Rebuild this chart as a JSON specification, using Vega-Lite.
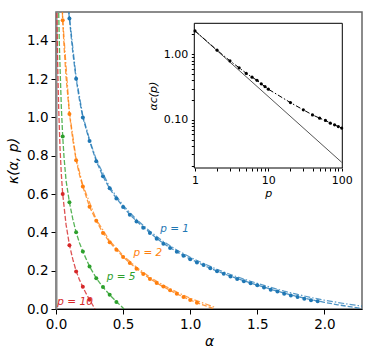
{
  "$schema": "https://vega.github.io/schema/vega-lite/v6.json",
  "width": 306,
  "height": 297,
  "autosize": {"type": "none"},
  "padding": {"left": 56, "top": 12, "right": 12, "bottom": 48},
  "config": {
    "font": "DejaVu Sans",
    "view": {"stroke": "#666", "strokeWidth": 1.5},
    "axis": {"grid": false, "labelColor": "#000", "titleColor": "#000", "tickColor": "#000", "domainColor": "#000", "titleFontWeight": "normal"}
  },
  "datasets": {
    "theory": [
      {"series": "1", "kind": "A", "alpha": 0.07, "kappa": 1.8}, {"series": "1", "kind": "A", "alpha": 0.08, "kappa": 1.67}, {"series": "1", "kind": "A", "alpha": 0.09, "kappa": 1.58}, {"series": "1", "kind": "A", "alpha": 0.1, "kappa": 1.515}, {"series": "1", "kind": "A", "alpha": 0.125, "kappa": 1.34}, {"series": "1", "kind": "A", "alpha": 0.15, "kappa": 1.2}, {"series": "1", "kind": "A", "alpha": 0.175, "kappa": 1.09}, {"series": "1", "kind": "A", "alpha": 0.2, "kappa": 1.0}, {"series": "1", "kind": "A", "alpha": 0.25, "kappa": 0.876}, {"series": "1", "kind": "A", "alpha": 0.3, "kappa": 0.772}, {"series": "1", "kind": "A", "alpha": 0.35, "kappa": 0.692}, {"series": "1", "kind": "A", "alpha": 0.4, "kappa": 0.628}, {"series": "1", "kind": "A", "alpha": 0.45, "kappa": 0.578}, {"series": "1", "kind": "A", "alpha": 0.5, "kappa": 0.533}, {"series": "1", "kind": "A", "alpha": 0.55, "kappa": 0.493}, {"series": "1", "kind": "A", "alpha": 0.6, "kappa": 0.459}, {"series": "1", "kind": "A", "alpha": 0.65, "kappa": 0.427}, {"series": "1", "kind": "A", "alpha": 0.7, "kappa": 0.398}, {"series": "1", "kind": "A", "alpha": 0.75, "kappa": 0.369}, {"series": "1", "kind": "A", "alpha": 0.8, "kappa": 0.343}, {"series": "1", "kind": "A", "alpha": 0.85, "kappa": 0.32}, {"series": "1", "kind": "A", "alpha": 0.9, "kappa": 0.299}, {"series": "1", "kind": "A", "alpha": 0.95, "kappa": 0.279}, {"series": "1", "kind": "A", "alpha": 1.0, "kappa": 0.261}, {"series": "1", "kind": "A", "alpha": 1.1, "kappa": 0.228}, {"series": "1", "kind": "A", "alpha": 1.2, "kappa": 0.198}, {"series": "1", "kind": "A", "alpha": 1.3, "kappa": 0.171}, {"series": "1", "kind": "A", "alpha": 1.4, "kappa": 0.147}, {"series": "1", "kind": "A", "alpha": 1.5, "kappa": 0.125}, {"series": "1", "kind": "A", "alpha": 1.6, "kappa": 0.103}, {"series": "1", "kind": "A", "alpha": 1.7, "kappa": 0.083}, {"series": "1", "kind": "A", "alpha": 1.8, "kappa": 0.065}, {"series": "1", "kind": "A", "alpha": 1.9, "kappa": 0.049}, {"series": "1", "kind": "A", "alpha": 2.0, "kappa": 0.035}, {"series": "1", "kind": "A", "alpha": 2.1, "kappa": 0.022}, {"series": "1", "kind": "A", "alpha": 2.2, "kappa": 0.011}, {"series": "1", "kind": "A", "alpha": 2.28, "kappa": 0.003},
      {"series": "1", "kind": "B", "alpha": 0.07, "kappa": 1.81}, {"series": "1", "kind": "B", "alpha": 0.08, "kappa": 1.68}, {"series": "1", "kind": "B", "alpha": 0.09, "kappa": 1.59}, {"series": "1", "kind": "B", "alpha": 0.1, "kappa": 1.525}, {"series": "1", "kind": "B", "alpha": 0.15, "kappa": 1.21}, {"series": "1", "kind": "B", "alpha": 0.2, "kappa": 1.008}, {"series": "1", "kind": "B", "alpha": 0.25, "kappa": 0.884}, {"series": "1", "kind": "B", "alpha": 0.3, "kappa": 0.78}, {"series": "1", "kind": "B", "alpha": 0.4, "kappa": 0.636}, {"series": "1", "kind": "B", "alpha": 0.5, "kappa": 0.541}, {"series": "1", "kind": "B", "alpha": 0.6, "kappa": 0.467}, {"series": "1", "kind": "B", "alpha": 0.7, "kappa": 0.406}, {"series": "1", "kind": "B", "alpha": 0.8, "kappa": 0.352}, {"series": "1", "kind": "B", "alpha": 0.9, "kappa": 0.308}, {"series": "1", "kind": "B", "alpha": 1.0, "kappa": 0.27}, {"series": "1", "kind": "B", "alpha": 1.1, "kappa": 0.237}, {"series": "1", "kind": "B", "alpha": 1.2, "kappa": 0.207}, {"series": "1", "kind": "B", "alpha": 1.3, "kappa": 0.18}, {"series": "1", "kind": "B", "alpha": 1.4, "kappa": 0.156}, {"series": "1", "kind": "B", "alpha": 1.5, "kappa": 0.134}, {"series": "1", "kind": "B", "alpha": 1.6, "kappa": 0.113}, {"series": "1", "kind": "B", "alpha": 1.7, "kappa": 0.093}, {"series": "1", "kind": "B", "alpha": 1.8, "kappa": 0.076}, {"series": "1", "kind": "B", "alpha": 1.9, "kappa": 0.06}, {"series": "1", "kind": "B", "alpha": 2.0, "kappa": 0.046}, {"series": "1", "kind": "B", "alpha": 2.1, "kappa": 0.034}, {"series": "1", "kind": "B", "alpha": 2.2, "kappa": 0.023}, {"series": "1", "kind": "B", "alpha": 2.28, "kappa": 0.015},
      {"series": "2", "kind": "A", "alpha": 0.035, "kappa": 1.8}, {"series": "2", "kind": "A", "alpha": 0.04, "kappa": 1.68}, {"series": "2", "kind": "A", "alpha": 0.05, "kappa": 1.505}, {"series": "2", "kind": "A", "alpha": 0.06, "kappa": 1.37}, {"series": "2", "kind": "A", "alpha": 0.075, "kappa": 1.21}, {"series": "2", "kind": "A", "alpha": 0.1, "kappa": 1.02}, {"series": "2", "kind": "A", "alpha": 0.125, "kappa": 0.885}, {"series": "2", "kind": "A", "alpha": 0.15, "kappa": 0.777}, {"series": "2", "kind": "A", "alpha": 0.175, "kappa": 0.7}, {"series": "2", "kind": "A", "alpha": 0.2, "kappa": 0.639}, {"series": "2", "kind": "A", "alpha": 0.25, "kappa": 0.534}, {"series": "2", "kind": "A", "alpha": 0.3, "kappa": 0.46}, {"series": "2", "kind": "A", "alpha": 0.35, "kappa": 0.397}, {"series": "2", "kind": "A", "alpha": 0.4, "kappa": 0.349}, {"series": "2", "kind": "A", "alpha": 0.45, "kappa": 0.309}, {"series": "2", "kind": "A", "alpha": 0.5, "kappa": 0.272}, {"series": "2", "kind": "A", "alpha": 0.55, "kappa": 0.24}, {"series": "2", "kind": "A", "alpha": 0.6, "kappa": 0.211}, {"series": "2", "kind": "A", "alpha": 0.65, "kappa": 0.184}, {"series": "2", "kind": "A", "alpha": 0.7, "kappa": 0.158}, {"series": "2", "kind": "A", "alpha": 0.75, "kappa": 0.136}, {"series": "2", "kind": "A", "alpha": 0.8, "kappa": 0.116}, {"series": "2", "kind": "A", "alpha": 0.85, "kappa": 0.097}, {"series": "2", "kind": "A", "alpha": 0.9, "kappa": 0.079}, {"series": "2", "kind": "A", "alpha": 0.95, "kappa": 0.062}, {"series": "2", "kind": "A", "alpha": 1.0, "kappa": 0.047}, {"series": "2", "kind": "A", "alpha": 1.05, "kappa": 0.033}, {"series": "2", "kind": "A", "alpha": 1.1, "kappa": 0.02}, {"series": "2", "kind": "A", "alpha": 1.17, "kappa": 0.003},
      {"series": "2", "kind": "B", "alpha": 0.035, "kappa": 1.81}, {"series": "2", "kind": "B", "alpha": 0.05, "kappa": 1.512}, {"series": "2", "kind": "B", "alpha": 0.1, "kappa": 1.027}, {"series": "2", "kind": "B", "alpha": 0.15, "kappa": 0.784}, {"series": "2", "kind": "B", "alpha": 0.2, "kappa": 0.646}, {"series": "2", "kind": "B", "alpha": 0.3, "kappa": 0.467}, {"series": "2", "kind": "B", "alpha": 0.4, "kappa": 0.356}, {"series": "2", "kind": "B", "alpha": 0.5, "kappa": 0.279}, {"series": "2", "kind": "B", "alpha": 0.6, "kappa": 0.218}, {"series": "2", "kind": "B", "alpha": 0.7, "kappa": 0.166}, {"series": "2", "kind": "B", "alpha": 0.8, "kappa": 0.124}, {"series": "2", "kind": "B", "alpha": 0.9, "kappa": 0.088}, {"series": "2", "kind": "B", "alpha": 1.0, "kappa": 0.056}, {"series": "2", "kind": "B", "alpha": 1.1, "kappa": 0.03}, {"series": "2", "kind": "B", "alpha": 1.18, "kappa": 0.01},
      {"series": "5", "kind": "A", "alpha": 0.015, "kappa": 1.8}, {"series": "5", "kind": "A", "alpha": 0.02, "kappa": 1.55}, {"series": "5", "kind": "A", "alpha": 0.025, "kappa": 1.38}, {"series": "5", "kind": "A", "alpha": 0.032, "kappa": 1.22}, {"series": "5", "kind": "A", "alpha": 0.04, "kappa": 1.05}, {"series": "5", "kind": "A", "alpha": 0.05, "kappa": 0.9}, {"series": "5", "kind": "A", "alpha": 0.06, "kappa": 0.79}, {"series": "5", "kind": "A", "alpha": 0.075, "kappa": 0.67}, {"series": "5", "kind": "A", "alpha": 0.1, "kappa": 0.557}, {"series": "5", "kind": "A", "alpha": 0.125, "kappa": 0.47}, {"series": "5", "kind": "A", "alpha": 0.15, "kappa": 0.4}, {"series": "5", "kind": "A", "alpha": 0.175, "kappa": 0.345}, {"series": "5", "kind": "A", "alpha": 0.2, "kappa": 0.3}, {"series": "5", "kind": "A", "alpha": 0.25, "kappa": 0.222}, {"series": "5", "kind": "A", "alpha": 0.3, "kappa": 0.161}, {"series": "5", "kind": "A", "alpha": 0.35, "kappa": 0.114}, {"series": "5", "kind": "A", "alpha": 0.4, "kappa": 0.074}, {"series": "5", "kind": "A", "alpha": 0.45, "kappa": 0.038}, {"series": "5", "kind": "A", "alpha": 0.48, "kappa": 0.019}, {"series": "5", "kind": "A", "alpha": 0.507, "kappa": 0.0},
      {"series": "10", "kind": "A", "alpha": 0.004, "kappa": 1.8}, {"series": "10", "kind": "A", "alpha": 0.007, "kappa": 1.55}, {"series": "10", "kind": "A", "alpha": 0.01, "kappa": 1.38}, {"series": "10", "kind": "A", "alpha": 0.015, "kappa": 1.2}, {"series": "10", "kind": "A", "alpha": 0.02, "kappa": 1.05}, {"series": "10", "kind": "A", "alpha": 0.03, "kappa": 0.84}, {"series": "10", "kind": "A", "alpha": 0.04, "kappa": 0.7}, {"series": "10", "kind": "A", "alpha": 0.05, "kappa": 0.6}, {"series": "10", "kind": "A", "alpha": 0.075, "kappa": 0.44}, {"series": "10", "kind": "A", "alpha": 0.1, "kappa": 0.335}, {"series": "10", "kind": "A", "alpha": 0.125, "kappa": 0.26}, {"series": "10", "kind": "A", "alpha": 0.15, "kappa": 0.198}, {"series": "10", "kind": "A", "alpha": 0.175, "kappa": 0.152}, {"series": "10", "kind": "A", "alpha": 0.2, "kappa": 0.115}, {"series": "10", "kind": "A", "alpha": 0.225, "kappa": 0.08}, {"series": "10", "kind": "A", "alpha": 0.25, "kappa": 0.048}, {"series": "10", "kind": "A", "alpha": 0.27, "kappa": 0.025}, {"series": "10", "kind": "A", "alpha": 0.29, "kappa": 0.0}
    ],
    "sim": [
      {"series": "1", "alpha": 0.1, "kappa": 1.516}, {"series": "1", "alpha": 0.15, "kappa": 1.201}, {"series": "1", "alpha": 0.2, "kappa": 1.0}, {"series": "1", "alpha": 0.25, "kappa": 0.877}, {"series": "1", "alpha": 0.3, "kappa": 0.771}, {"series": "1", "alpha": 0.35, "kappa": 0.693}, {"series": "1", "alpha": 0.4, "kappa": 0.63}, {"series": "1", "alpha": 0.45, "kappa": 0.577}, {"series": "1", "alpha": 0.5, "kappa": 0.532}, {"series": "1", "alpha": 0.55, "kappa": 0.492}, {"series": "1", "alpha": 0.6, "kappa": 0.457}, {"series": "1", "alpha": 0.65, "kappa": 0.424}, {"series": "1", "alpha": 0.7, "kappa": 0.396}, {"series": "1", "alpha": 0.75, "kappa": 0.366}, {"series": "1", "alpha": 0.8, "kappa": 0.341}, {"series": "1", "alpha": 0.85, "kappa": 0.318}, {"series": "1", "alpha": 0.9, "kappa": 0.299}, {"series": "1", "alpha": 0.95, "kappa": 0.278}, {"series": "1", "alpha": 1.0, "kappa": 0.259}, {"series": "1", "alpha": 1.05, "kappa": 0.243}, {"series": "1", "alpha": 1.1, "kappa": 0.229}, {"series": "1", "alpha": 1.15, "kappa": 0.213}, {"series": "1", "alpha": 1.2, "kappa": 0.197}, {"series": "1", "alpha": 1.25, "kappa": 0.184}, {"series": "1", "alpha": 1.3, "kappa": 0.17}, {"series": "1", "alpha": 1.35, "kappa": 0.157}, {"series": "1", "alpha": 1.4, "kappa": 0.145}, {"series": "1", "alpha": 1.45, "kappa": 0.135}, {"series": "1", "alpha": 1.5, "kappa": 0.124}, {"series": "1", "alpha": 1.55, "kappa": 0.112}, {"series": "1", "alpha": 1.6, "kappa": 0.101}, {"series": "1", "alpha": 1.65, "kappa": 0.091}, {"series": "1", "alpha": 1.7, "kappa": 0.08}, {"series": "1", "alpha": 1.75, "kappa": 0.071}, {"series": "1", "alpha": 1.8, "kappa": 0.062}, {"series": "1", "alpha": 1.85, "kappa": 0.054}, {"series": "1", "alpha": 1.9, "kappa": 0.046}, {"series": "1", "alpha": 1.95, "kappa": 0.04},
      {"series": "2", "alpha": 0.05, "kappa": 1.507}, {"series": "2", "alpha": 0.1, "kappa": 1.018}, {"series": "2", "alpha": 0.15, "kappa": 0.776}, {"series": "2", "alpha": 0.2, "kappa": 0.639}, {"series": "2", "alpha": 0.25, "kappa": 0.534}, {"series": "2", "alpha": 0.3, "kappa": 0.46}, {"series": "2", "alpha": 0.35, "kappa": 0.396}, {"series": "2", "alpha": 0.4, "kappa": 0.349}, {"series": "2", "alpha": 0.45, "kappa": 0.309}, {"series": "2", "alpha": 0.5, "kappa": 0.271}, {"series": "2", "alpha": 0.55, "kappa": 0.24}, {"series": "2", "alpha": 0.6, "kappa": 0.21}, {"series": "2", "alpha": 0.65, "kappa": 0.183}, {"series": "2", "alpha": 0.7, "kappa": 0.157}, {"series": "2", "alpha": 0.75, "kappa": 0.136}, {"series": "2", "alpha": 0.8, "kappa": 0.117}, {"series": "2", "alpha": 0.85, "kappa": 0.098}, {"series": "2", "alpha": 0.9, "kappa": 0.08}, {"series": "2", "alpha": 0.95, "kappa": 0.063}, {"series": "2", "alpha": 1.0, "kappa": 0.047}, {"series": "2", "alpha": 1.05, "kappa": 0.033},
      {"series": "5", "alpha": 0.05, "kappa": 0.9}, {"series": "5", "alpha": 0.1, "kappa": 0.557}, {"series": "5", "alpha": 0.15, "kappa": 0.4}, {"series": "5", "alpha": 0.2, "kappa": 0.3}, {"series": "5", "alpha": 0.25, "kappa": 0.222}, {"series": "5", "alpha": 0.3, "kappa": 0.161}, {"series": "5", "alpha": 0.35, "kappa": 0.115}, {"series": "5", "alpha": 0.4, "kappa": 0.074}, {"series": "5", "alpha": 0.45, "kappa": 0.037},
      {"series": "10", "alpha": 0.05, "kappa": 0.6}, {"series": "10", "alpha": 0.1, "kappa": 0.333}, {"series": "10", "alpha": 0.15, "kappa": 0.196}, {"series": "10", "alpha": 0.2, "kappa": 0.116}, {"series": "10", "alpha": 0.25, "kappa": 0.048}
    ],
    "labels": [
      {"series": "1", "text": "p = 1", "alpha": 0.776, "kappa": 0.418},
      {"series": "2", "text": "p = 2", "alpha": 0.577, "kappa": 0.292},
      {"series": "5", "text": "p = 5", "alpha": 0.378, "kappa": 0.167},
      {"series": "10", "text": "p = 10", "alpha": 0.01, "kappa": 0.036}
    ],
    "critical": [
      {"p": 1, "alpha_c": 2.26}, {"p": 2, "alpha_c": 1.15}, {"p": 3, "alpha_c": 0.79}, {"p": 4, "alpha_c": 0.62}, {"p": 5, "alpha_c": 0.51}, {"p": 6, "alpha_c": 0.446}, {"p": 7, "alpha_c": 0.4}, {"p": 8, "alpha_c": 0.353}, {"p": 9, "alpha_c": 0.321}, {"p": 10, "alpha_c": 0.293}, {"p": 20, "alpha_c": 0.183}, {"p": 30, "alpha_c": 0.142}, {"p": 40, "alpha_c": 0.119}, {"p": 50, "alpha_c": 0.106}, {"p": 60, "alpha_c": 0.098}, {"p": 70, "alpha_c": 0.089}, {"p": 80, "alpha_c": 0.084}, {"p": 90, "alpha_c": 0.079}, {"p": 100, "alpha_c": 0.075}
    ],
    "scaling": [
      {"p": 1, "alpha_c": 2.26}, {"p": 100, "alpha_c": 0.0226}
    ],
    "insetframe": [
      {"p": 0.978, "p_end": 101.9, "alpha_c": 0.0185, "alpha_c_end": 2.95}
    ]
  },
  "layer": [
    {
      "encoding": {
        "x": {"field": "alpha", "type": "quantitative", "scale": {"domain": [0, 2.28], "nice": false, "zero": false},
          "axis": {"values": [0, 0.5, 1, 1.5, 2], "format": ".1f", "title": "α", "titleFontStyle": "italic", "labelFontSize": 13.5, "titleFontSize": 14, "tickSize": 5, "labelPadding": 3, "titlePadding": 4, "labelFlush": false}},
        "y": {"field": "kappa", "type": "quantitative", "scale": {"domain": [0, 1.55], "nice": false, "zero": false},
          "axis": {"values": [0, 0.2, 0.4, 0.6, 0.8, 1.0, 1.2, 1.4], "format": ".1f", "title": "κ(α, p)", "titleFontStyle": "italic", "labelFontSize": 13.5, "titleFontSize": 14, "tickSize": 5, "labelPadding": 3, "titlePadding": 6, "domainColor": "#888", "domainWidth": 2, "labelFlush": false}},
        "color": {"field": "series", "type": "nominal", "scale": {"domain": ["1", "2", "5", "10"], "range": ["#1f77b4", "#ff7f0e", "#2ca02c", "#d62728"]}, "legend": null}
      },
      "layer": [
        {"data": {"name": "theory"}, "transform": [{"filter": "datum.kind == 'A'"}], "mark": {"type": "line", "clip": true, "strokeWidth": 1.3, "strokeDash": [5, 2], "opacity": 0.8}, "encoding": {"detail": {"field": "series"}}},
        {"data": {"name": "theory"}, "transform": [{"filter": "datum.kind == 'B'"}], "mark": {"type": "line", "clip": true, "strokeWidth": 1.2, "strokeDash": [6, 2, 1.5, 2], "opacity": 0.75}, "encoding": {"detail": {"field": "series"}}},
        {"data": {"name": "sim"}, "mark": {"type": "circle", "clip": true, "size": 16, "opacity": 1}},
        {"data": {"name": "labels"}, "mark": {"type": "text", "align": "left", "baseline": "middle", "fontSize": 10.5, "fontStyle": "italic"}, "encoding": {"text": {"field": "text"}}}
      ]
    },
    {
      "encoding": {
        "x": {"field": "p", "type": "quantitative", "scale": {"type": "log", "domain": [0.978, 101.9], "range": [138.3, 286.3], "nice": false},
          "axis": {"orient": "bottom", "offset": -141, "values": [1, 2, 3, 4, 5, 6, 7, 8, 9, 10, 20, 30, 40, 50, 60, 70, 80, 90, 100], "labelExpr": "indexof([1, 10, 100], datum.value) >= 0 ? datum.value : ''", "title": "p", "titleFontStyle": "italic", "labelFontSize": 11, "titleFontSize": 11, "tickSize": 3, "labelPadding": 3, "titlePadding": 2, "domain": false, "labelFlush": false}},
        "y": {"field": "alpha_c", "type": "quantitative", "scale": {"type": "log", "domain": [0.0185, 2.95], "range": [156, 11.3], "nice": false},
          "axis": {"orient": "left", "offset": -138.3, "values": [0.02, 0.03, 0.04, 0.05, 0.06, 0.07, 0.08, 0.09, 0.1, 0.2, 0.3, 0.4, 0.5, 0.6, 0.7, 0.8, 0.9, 1, 2], "labelExpr": "datum.value == 1 ? '1.00' : datum.value == 0.1 ? '0.10' : ''", "title": "αc(p)", "titleFontStyle": "italic", "labelFontSize": 11, "titleFontSize": 11, "tickSize": 3, "labelPadding": 3.5, "titlePadding": 5, "domain": false, "labelFlush": false}}
      },
      "layer": [
        {"data": {"name": "insetframe"}, "mark": {"type": "rect", "fill": "white", "stroke": "#000", "strokeWidth": 1}, "encoding": {"x2": {"field": "p_end"}, "y2": {"field": "alpha_c_end"}}},
        {"data": {"name": "scaling"}, "mark": {"type": "line", "color": "#555", "strokeWidth": 1}},
        {"data": {"name": "critical"}, "mark": {"type": "line", "color": "#000", "strokeWidth": 1, "strokeDash": [5, 2, 1.5, 2]}},
        {"data": {"name": "critical"}, "mark": {"type": "circle", "color": "#000", "size": 10, "opacity": 1}}
      ]
    }
  ],
  "resolve": {"scale": {"x": "independent", "y": "independent"}, "axis": {"x": "independent", "y": "independent"}}
}
